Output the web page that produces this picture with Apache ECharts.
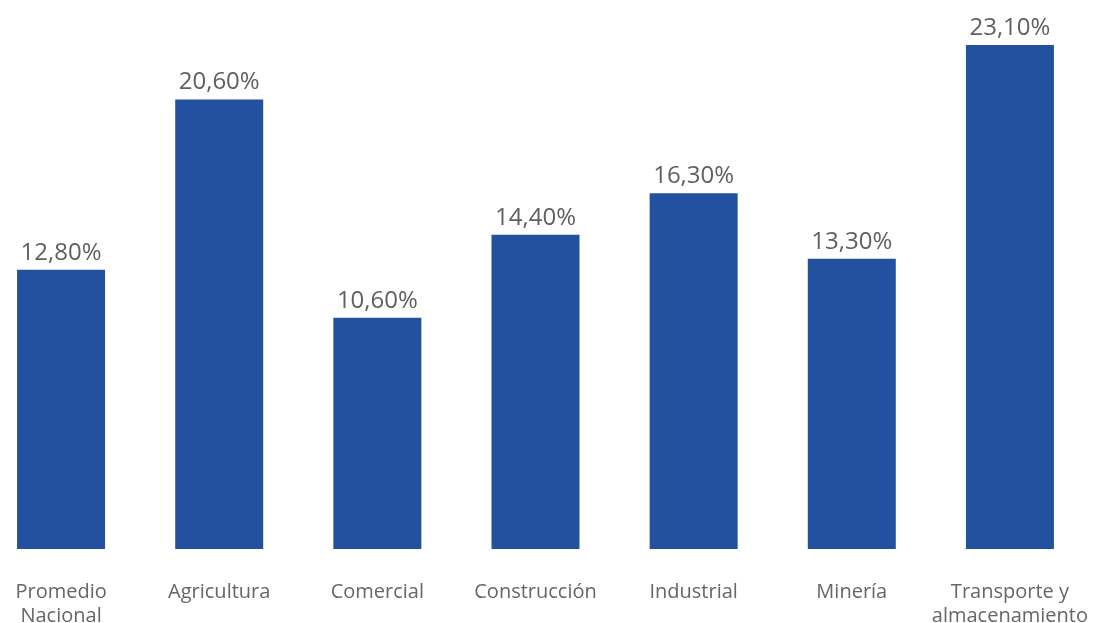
<!DOCTYPE html>
<html>
<head>
<meta charset="utf-8">
<script src="https://cdn.jsdelivr.net/npm/echarts@6/dist/echarts.min.js"></script>
<style>
html,body{margin:0;padding:0;background:#fff;}
#chart{width:1093px;height:623px;}
</style>
</head>
<body>
<div id="chart"></div>
<script>
var categories = ['Promedio\nNacional', 'Agricultura', 'Comercial', 'Construcción', 'Industrial', 'Minería', 'Transporte y\nalmacenamiento'];
var values = [12.8, 20.6, 10.6, 14.4, 16.3, 13.3, 23.1];

var chart = echarts.init(document.getElementById('chart'));
var option = {
	animation: false,
	grid: {
		left: -18,
		right: 4,
		top: 45,
		bottom: 74,
		containLabel: false,
		outerBoundsMode: 'none'
	},
	xAxis: {
		type: 'category',
		data: categories,
		axisLine: {show: false},
		axisTick: {show: false},
		axisLabel: {
			interval: 0,
			margin: 31,
			color: '#666666',
			fontFamily: 'Open Sans',
			fontSize: 20,
			lineHeight: 24
		}
	},
	yAxis: {
		type: 'value',
		min: 0,
		max: 23.1,
		show: false,
		splitLine: {show: false}
	},
	series: [{
		type: 'bar',
		data: values,
		barWidth: 88,
		clip: false,
		itemStyle: {color: '#22519F'},
		label: {
			show: true,
			position: 'top',
			distance: 5,
			color: '#5f5f5f',
			fontFamily: 'Open Sans',
			fontSize: 24,
			fontWeight: 500,
			formatter: function(p) {
				return p.value.toFixed(2).replace('.', ',') + '%';
			}
		}
	}]
};
chart.setOption(option);
</script>
</body>
</html>
